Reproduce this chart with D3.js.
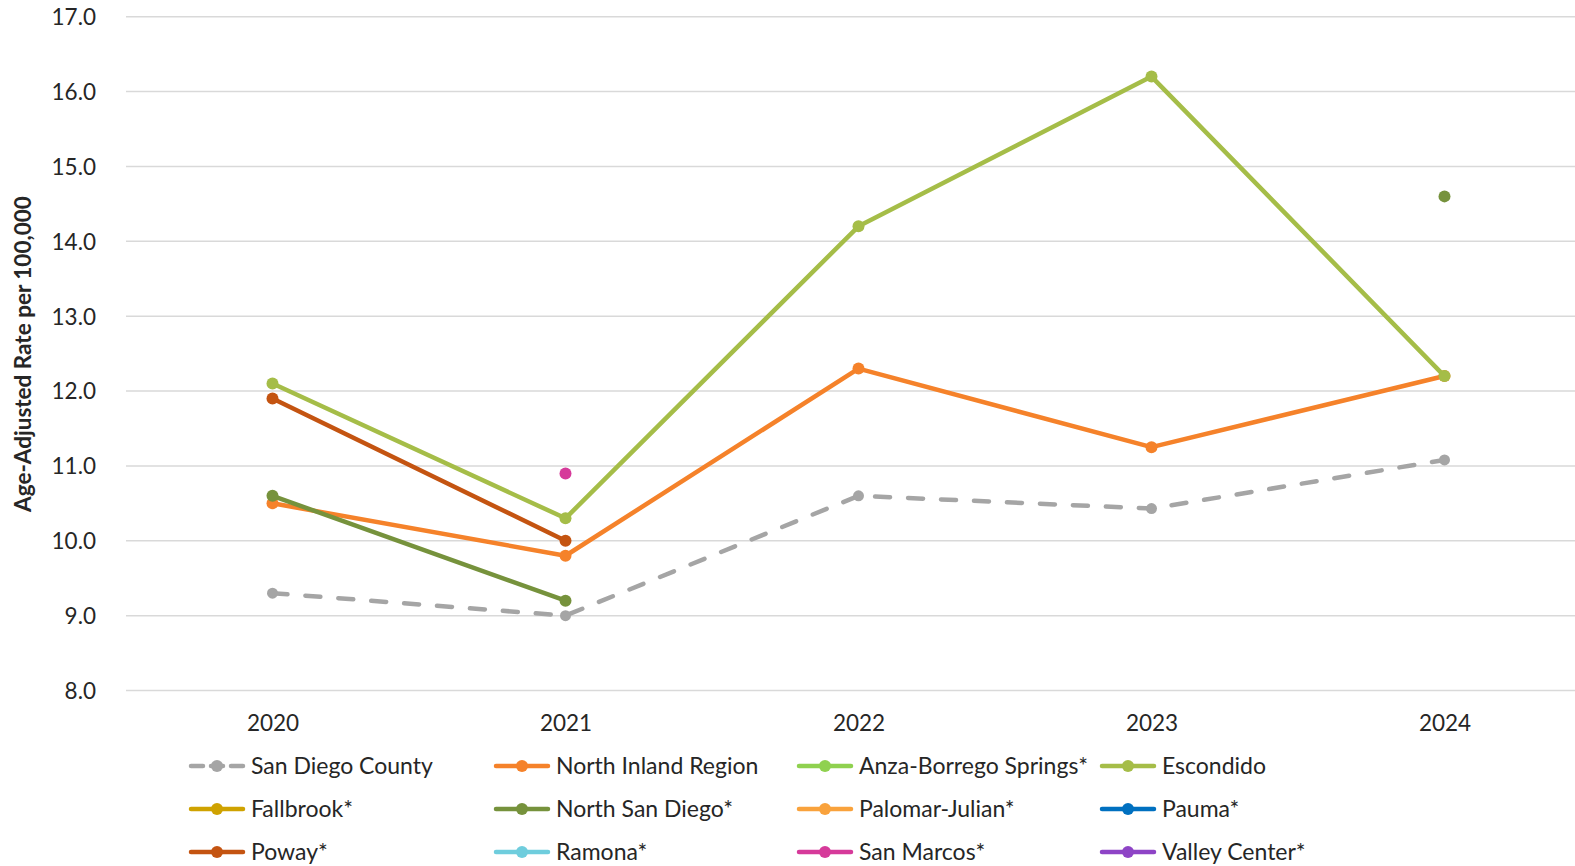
<!DOCTYPE html>
<html>
<head>
<meta charset="utf-8">
<script src="https://cdn.jsdelivr.net/npm/d3@7"></script>
<style>
  html, body { margin: 0; padding: 0; background: #fff; }
  svg { display: block; font-family: Lato, "Open Sans", sans-serif; }
</style>
</head>
<body>
<svg id="chart" width="1575" height="866"></svg>
<script>
// Years on the x axis
const years = ["2020", "2021", "2022", "2023", "2024"];
const yTicks = [8, 9, 10, 11, 12, 13, 14, 15, 16, 17];

// Age-adjusted rates per 100,000 (null = not reported)
const seriesNames = [
  "San Diego County", "North Inland Region", "Anza-Borrego Springs*", "Escondido",
  "Fallbrook*", "North San Diego*", "Palomar-Julian*", "Pauma*",
  "Poway*", "Ramona*", "San Marcos*", "Valley Center*"
];
const sanDiegoCounty   = [9.3, 9.0, 10.6, 10.43, 11.08];
const northInland      = [10.5, 9.8, 12.3, 11.25, 12.2];
const anzaBorrego      = [null, null, null, null, null];
const escondido        = [12.1, 10.3, 14.2, 16.2, 12.2];
const fallbrook        = [null, null, null, null, null];
const northSanDiego    = [10.6, 9.2, null, null, 14.6];
const palomarJulian    = [null, null, null, null, null];
const pauma            = [null, null, null, null, null];
const poway            = [11.9, 10.0, null, null, null];
const ramona           = [null, null, null, null, null];
const sanMarcos        = [null, 10.9, null, null, null];
const valleyCenter     = [null, null, null, null, null];

const seriesValues = [
  sanDiegoCounty, northInland, anzaBorrego, escondido,
  fallbrook, northSanDiego, palomarJulian, pauma,
  poway, ramona, sanMarcos, valleyCenter
];
const seriesColors = [
  "#A5A5A5", "#F5822A", "#8FD14F", "#A5BD48",
  "#CFA200", "#76923C", "#F9A23C", "#0070C0",
  "#C45411", "#6FCDDD", "#D63A9A", "#8E44C6"
];
const dashed = [true, false, false, false, false, false, false, false, false, false, false, false];

const svg = d3.select("#chart");

const x = d3.scalePoint().domain(years).range([126, 1591]).padding(0.5);
const y = d3.scaleLinear().domain([8, 17]).range([690.5, 16.7]);

// Horizontal gridlines
svg.append("g")
  .selectAll("line")
  .data(yTicks)
  .join("line")
  .attr("x1", 126).attr("x2", 1575)
  .attr("y1", d => y(d)).attr("y2", d => y(d))
  .attr("stroke", "#D9D9D9").attr("stroke-width", 1.5);

// Y axis tick labels
const yAxis = svg.append("g")
  .attr("transform", "translate(96,0)")
  .call(d3.axisLeft(y).tickValues(yTicks).tickFormat(d3.format(".1f")).tickSize(0).tickPadding(0));
yAxis.select(".domain").remove();
yAxis.selectAll("text")
  .attr("font-family", "Lato, sans-serif")
  .attr("font-size", 22.5)
  .attr("fill", "#262626")
  .attr("dy", "0.35em");

// X axis tick labels
const xAxis = svg.append("g")
  .attr("transform", "translate(0,714)")
  .call(d3.axisBottom(x).tickSize(0).tickPadding(0));
xAxis.select(".domain").remove();
xAxis.selectAll("text")
  .attr("font-family", "Lato, sans-serif")
  .attr("font-size", 22.5)
  .attr("fill", "#262626")
  .attr("dy", "0.75em");

// Y axis title
svg.append("text")
  .attr("transform", "translate(31,354) rotate(-90)")
  .attr("text-anchor", "middle")
  .attr("font-family", "Lato, sans-serif")
  .attr("font-weight", "bold")
  .attr("font-size", 22.5)
  .attr("fill", "#262626")
  .text("Age-Adjusted Rate per 100,000");

// Series lines and markers
const line = d3.line()
  .defined(d => d.v !== null)
  .x(d => x(d.year))
  .y(d => y(d.v));

const plot = svg.append("g");
seriesNames.forEach((name, i) => {
  const pts = years.map((yr, j) => ({ year: yr, v: seriesValues[i][j] }));
  const g = plot.append("g");
  g.append("path")
    .datum(pts)
    .attr("d", line)
    .attr("fill", "none")
    .attr("stroke", seriesColors[i])
    .attr("stroke-width", 4.5)
    .attr("stroke-linejoin", "round")
    .attr("stroke-linecap", "round")
    .attr("stroke-dasharray", dashed[i] ? "15,18" : null);
  g.selectAll("circle")
    .data(pts.filter(d => d.v !== null))
    .join("circle")
    .attr("cx", d => x(d.year))
    .attr("cy", d => y(d.v))
    .attr("r", dashed[i] ? 5.5 : 6)
    .attr("fill", seriesColors[i]);
});

// Legend: four columns, three rows
const legendCols = [189, 494, 797, 1100];
const legendRows = [766, 809, 852];
const legend = svg.append("g");
seriesNames.forEach((name, i) => {
  const lx = legendCols[i % 4];
  const ly = legendRows[Math.floor(i / 4)];
  const item = legend.append("g").attr("transform", `translate(${lx},${ly})`);
  item.append("line")
    .attr("x1", 2).attr("x2", 54)
    .attr("y1", 0).attr("y2", 0)
    .attr("stroke", seriesColors[i])
    .attr("stroke-width", 4.5)
    .attr("stroke-linecap", "round")
    .attr("stroke-dasharray", dashed[i] ? "12,8" : null);
  item.append("circle")
    .attr("cx", 28).attr("cy", 0)
    .attr("r", 6)
    .attr("fill", seriesColors[i]);
  item.append("text")
    .attr("x", 62).attr("y", 0)
    .attr("dy", "0.35em")
    .attr("font-family", "Lato, sans-serif")
    .attr("font-size", 23)
    .attr("fill", "#262626")
    .text(name);
});
</script>
</body>
</html>
